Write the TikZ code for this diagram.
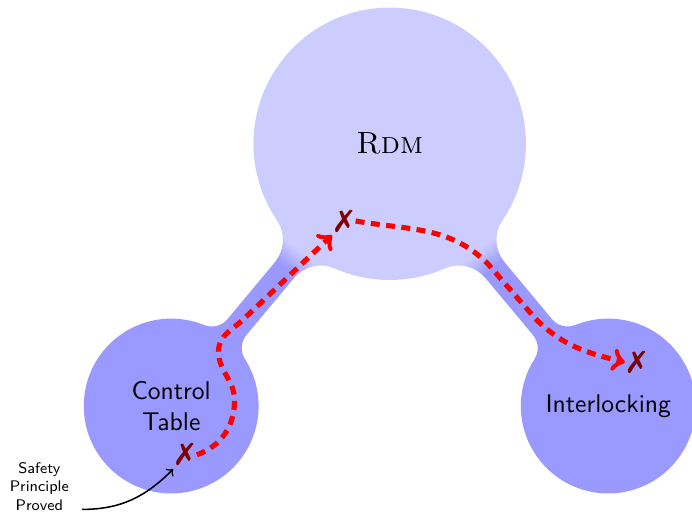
\documentclass[tikz,border=0pt]{standalone}
\usepackage{pifont}
\usetikzlibrary{positioning,calc,backgrounds}

\begin{document}
\begin{tikzpicture}[
    every node/.style={font=\sffamily},
    blob/.style={circle, inner sep=0pt, align=center},
    cross/.style={text=red!50!black, inner sep=1pt, font=\large},
    rpath/.style={->, red, line width=2pt, dash pattern=on 3.5pt off 2.5pt},
    arr/.style={->, semithick},
    lbl/.style={font=\fontsize{6}{7.2}\selectfont\sffamily, align=center, inner sep=1pt}
  ]
    \useasboundingbox (-2.35,-1.455) rectangle (7.15,5.574);

    \node[blob, fill=blue!40, minimum size=2.4cm] (ct) at (0,0) {Control\\Table};
    \node[blob, fill=blue!40, minimum size=2.4cm] (il) at (6,0) {Interlocking};
    \node[blob, fill=blue!20, minimum size=3.74cm, font=\rmfamily\large] (rdm) at (3,3.6) {\textsc{Rdm}};

    % necks between the circles
    \pgfmathsetmacro\nka{sqrt((1.87+0.48)^2-0.65^2)}
    \pgfmathsetmacro\nkb{4.686-sqrt((1.2+0.28)^2-0.45^2)}
    \pgfmathsetmacro\pha{atan(0.65/\nka)}
    \pgfmathsetmacro\phb{atan(0.45/(4.686-\nkb))}
    \begin{scope}[on background layer]
      \foreach \ang in {230.19,-50.19} {
        \begin{scope}[shift={(rdm.center)}, rotate=\ang]
          \clip (0,0) -- ($(\nka,0.65)+(180+\pha:0.48)$) arc[start angle=180+\pha, end angle=270, radius=0.48]
            -- (\nkb,0.17) arc[start angle=270, end angle=360-\phb, radius=0.28]
            -- (4.686,0) -- ($(\nkb,-0.45)+(\phb:0.28)$) arc[start angle=\phb, end angle=90, radius=0.28]
            -- (\nka,-0.17) arc[start angle=90, end angle=180-\pha, radius=0.48] -- cycle;
          \fill[blue!20] (0,-1) rectangle (1.91,1);
          \fill[blue!40] (2.19,-1) rectangle (5,1);
          \foreach \k in {20,22,...,38}
            \fill[blue!\k] ({1.9+0.015*(\k-20)},-1) rectangle ++(0.032,2);
        \end{scope}
      }
    \end{scope}

    \node[cross] (xrdm) at (2.37,2.54) {\ding{55}};
    \node[cross] (xct) at (0.19,-0.67) {\ding{55}};
    \node[cross] (xil) at (6.39,0.60) {\ding{55}};

    % steps of the proof
    \draw[rpath] (xct.east) to[out=20,in=-90] (0.87,0.08) to[out=90,in=-90] (0.65,0.75)
      to[out=90,in=225] (1.0,1.2) -- (xrdm.south west);
    \draw[rpath] (xrdm.east) to[out=-10,in=135] (4.35,1.95) -- (5.0,1.2)
      to[out=-45,in=166] (xil.west);

    \node[lbl] (lbl) at (-1.81,-1.10) {Safety\\Principle\\Proved};
    \draw[arr] ([xshift=4pt,yshift=1.5pt]lbl.south east) to[out=0,in=225] (xct.south west);
\end{tikzpicture}
\end{document}
